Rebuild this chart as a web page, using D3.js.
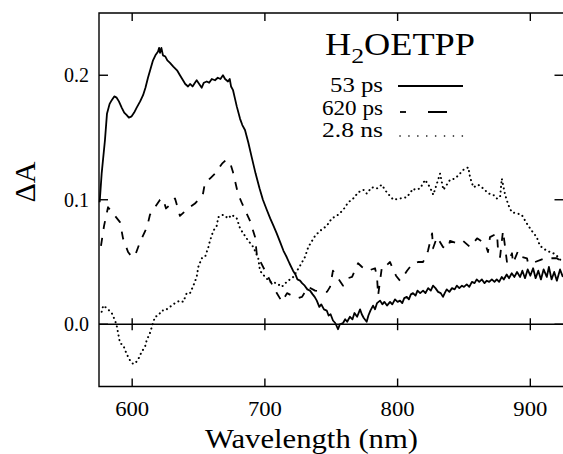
<!DOCTYPE html>
<html><head><meta charset="utf-8">
<script src="https://cdn.jsdelivr.net/npm/d3@7/dist/d3.min.js"></script>
<style>body{margin:0;background:#fff}svg{display:block}</style>
</head><body><svg id="c" width="563" height="454" font-family="'Liberation Serif', 'DejaVu Serif', serif"></svg>
<script>
const xTicks=[600,700,800,900];
const yTicks=[0.0,0.1,0.2];
const xLabel="Wavelength (nm)";
const yLabel="ΔA";
const seriesNames=["53 ps","620 ps","2.8 ns"];
const s53=[[575.5,0.098],[577,0.121],[579.5,0.148],[581,0.169],[583,0.177],[584.6,0.180],[586.5,0.183],[588.3,0.182],[590,0.179],[592.1,0.174],[594,0.170],[595.9,0.168],[597.5,0.166],[599.6,0.167],[601.5,0.170],[603.4,0.174],[606,0.179],[608.2,0.184],[610,0.190],[611.9,0.198],[613.8,0.205],[615.7,0.212],[617.5,0.216],[619.5,0.219],[620.3,0.222],[621,0.218],[622,0.222],[623.2,0.216],[625,0.215],[626.5,0.212],[628.5,0.210],[631,0.207],[633.8,0.204],[636,0.200],[638.3,0.196],[640,0.193],[642.1,0.191],[643.6,0.193],[645.5,0.191],[647.3,0.194],[648.6,0.196],[650.5,0.193],[652.4,0.190],[654,0.194],[656.2,0.195],[658,0.194],[660,0.197],[662.4,0.196],[664.5,0.198],[666.5,0.197],[668.4,0.200],[670,0.197],[672.2,0.195],[673.5,0.197],[674.5,0.191],[676,0.188],[677.5,0.181],[678.8,0.175],[681.3,0.165],[683,0.160],[685,0.156],[687.5,0.146],[690.1,0.134],[693,0.121],[696,0.109],[698.5,0.100],[701.4,0.092],[704,0.085],[706.5,0.079],[708.9,0.073],[711.5,0.066],[714,0.059],[716.4,0.054],[718.5,0.049],[721.2,0.043],[723,0.040],[724.5,0.036],[726.5,0.035],[728,0.033],[730,0.031],[732,0.028],[734,0.027],[736,0.024],[737.5,0.022],[739.1,0.019],[741,0.014],[742.5,0.016],[744.5,0.012],[746.6,0.011],[748,0.007],[749.5,0.008],[751.3,0.003],[753,0.001],[755.1,-0.004],[756.5,0.000],[758.9,0.001],[760.5,0.004],[762,0.002],[764.1,0.006],[766,0.004],[767.5,0.009],[769.5,0.006],[771.7,0.012],[773,0.008],[774.5,0.005],[776.7,0.002],[778,0.007],[779.5,0.011],[781.5,0.015],[783,0.012],[784.5,0.017],[786.8,0.019],[788.5,0.016],[790,0.018],[792,0.015],[794.3,0.018],[796,0.016],[798,0.020],[800,0.018],[801.8,0.019],[803.5,0.017],[805,0.021],[806.9,0.022],[808.5,0.020],[810,0.024],[811.6,0.025],[813.5,0.023],[815,0.027],[817,0.025],[819.2,0.027],[821,0.025],[823,0.029],[825,0.027],[826.7,0.031],[828.5,0.029],[830.5,0.026],[832.5,0.025],[834.2,0.022],[835.5,0.025],[837,0.028],[839,0.026],[841,0.029],[843,0.028],[844.6,0.031],[846.5,0.029],[848.5,0.031],[850,0.030],[852.1,0.032],[854,0.030],[856,0.034],[858,0.033],[859.6,0.036],[861.5,0.034],[863.5,0.036],[865.5,0.033],[867.2,0.035],[869,0.034],[871,0.036],[873,0.034],[874.7,0.036],[876.5,0.034],[878.5,0.038],[880,0.036],[882.2,0.040],[884,0.037],[886,0.041],[888,0.038],[890,0.042],[892.3,0.038],[894,0.043],[896,0.037],[898,0.044],[900,0.039],[902.1,0.045],[904,0.037],[906,0.043],[908,0.036],[910,0.044],[912.4,0.038],[914,0.046],[916,0.036],[918,0.042],[920,0.035],[922.4,0.044],[924.5,0.038]];
const s620=[[576.5,0.063],[578.8,0.079],[581.8,0.094],[585.6,0.089],[590.8,0.082],[593.1,0.069],[596.9,0.058],[599.9,0.054],[602.1,0.055],[605.9,0.066],[611.2,0.078],[613.4,0.088],[617.2,0.094],[621.0,0.100],[623.2,0.101],[625.5,0.093],[628.5,0.096],[630.8,0.100],[632.3,0.101],[636.0,0.087],[639.1,0.090],[642.1,0.093],[647.3,0.097],[651.1,0.101],[653.4,0.105],[654.9,0.114],[658.6,0.117],[662.4,0.121],[667.7,0.129],[670.7,0.132],[673.7,0.130],[676.0,0.122],[679.7,0.105],[682.8,0.097],[685.8,0.090],[688.8,0.083],[692.6,0.070],[694.1,0.054],[696.3,0.051],[700.1,0.043],[703.9,0.035],[708.4,0.026],[712.9,0.018],[716.7,0.025],[720.4,0.023],[725.0,0.021],[728.0,0.022],[732.5,0.030],[737.8,0.027],[743.1,0.026],[746.8,0.026],[749.1,0.030],[751.3,0.043],[754.4,0.038],[758.9,0.031],[762.6,0.037],[765.7,0.038],[770.2,0.049],[773.2,0.046],[777.7,0.043],[783.0,0.045],[784.5,0.038],[785.3,0.023],[788.3,0.047],[791.3,0.047],[794.3,0.050],[795.8,0.046],[798.8,0.039],[801.8,0.035],[804.1,0.038],[807.1,0.043],[811.6,0.049],[815.4,0.050],[819.2,0.050],[822.9,0.059],[826.0,0.073],[826.7,0.061],[829.7,0.070],[834.2,0.062],[838.0,0.061],[839.5,0.067],[844.8,0.065],[849.3,0.067],[854.6,0.062],[859.9,0.069],[865.9,0.065],[868.1,0.058],[869.6,0.070],[874.9,0.073],[875.7,0.059],[877.2,0.054],[879.4,0.075],[881.0,0.062],[882.5,0.049],[886.2,0.057],[887.0,0.049],[890.8,0.059],[893.8,0.054],[897.5,0.053],[898.3,0.049],[903.6,0.050],[911.1,0.053],[920.1,0.053],[923.9,0.050]];
const s28=[[577.0,0.010],[578.2,0.015],[580.8,0.013],[584.6,0.009],[587.1,0.003],[588.3,-0.001],[590.8,-0.015],[593.3,-0.017],[595.9,-0.024],[598.4,-0.029],[600.8,-0.032],[603.4,-0.030],[604.6,-0.028],[607.2,-0.022],[609.7,-0.018],[610.9,-0.013],[613.4,-0.007],[617.2,0.006],[619.7,0.007],[622.3,0.011],[624.7,0.011],[628.5,0.014],[632.3,0.017],[636.0,0.019],[638.5,0.018],[641.1,0.025],[643.6,0.025],[646.1,0.031],[648.6,0.038],[649.8,0.046],[652.4,0.053],[654.9,0.054],[657.4,0.062],[658.6,0.067],[661.1,0.075],[663.7,0.079],[664.9,0.086],[668.7,0.088],[672.4,0.085],[675.0,0.088],[678.8,0.085],[681.3,0.077],[683.7,0.073],[687.5,0.067],[691.3,0.062],[695.0,0.053],[696.3,0.043],[700.1,0.038],[703.9,0.034],[708.9,0.033],[712.7,0.030],[716.4,0.034],[721.4,0.038],[726.5,0.047],[730.2,0.054],[732.7,0.062],[737.8,0.071],[741.5,0.075],[746.6,0.079],[750.4,0.085],[755.3,0.088],[759.1,0.092],[762.9,0.098],[766.6,0.101],[770.4,0.106],[774.2,0.108],[776.7,0.105],[780.5,0.110],[784.3,0.109],[788.0,0.112],[791.8,0.106],[796.8,0.100],[801.8,0.101],[806.9,0.102],[811.9,0.109],[813.1,0.108],[816.9,0.109],[820.7,0.116],[824.4,0.110],[826.9,0.104],[832.0,0.121],[834.5,0.108],[839.5,0.116],[843.3,0.117],[847.0,0.121],[849.5,0.124],[853.3,0.126],[854.6,0.118],[857.1,0.110],[860.8,0.112],[864.6,0.109],[868.4,0.105],[872.1,0.104],[874.7,0.101],[877.2,0.102],[878.5,0.117],[881.0,0.104],[883.4,0.096],[886.0,0.090],[889.8,0.089],[893.5,0.088],[897.3,0.081],[901.1,0.075],[904.8,0.070],[907.3,0.063],[912.4,0.059],[917.4,0.057],[921.1,0.054],[923.7,0.050]];

const svg=d3.select("#c");
const FONT="'Liberation Serif', 'DejaVu Serif', serif";
const L=99,R=563.5,T=13,B=386.5;
const x=d3.scaleLinear().domain([575,925]).range([L,R]);
const y=d3.scaleLinear().domain([-0.05,0.25]).range([B,T]);
const fr=svg.append("g").attr("stroke","#000").attr("stroke-width",1.4).attr("fill","none");
fr.append("path").attr("d",`M${R},${T}H${L}V${B}H${R}`);
fr.append("line").attr("x1",L).attr("x2",R).attr("y1",y(0)).attr("y2",y(0));
xTicks.forEach(t=>{
  fr.append("line").attr("x1",x(t)).attr("x2",x(t)).attr("y1",B).attr("y2",B-8);
  fr.append("line").attr("x1",x(t)).attr("x2",x(t)).attr("y1",T).attr("y2",T+8);
  fr.append("line").attr("x1",x(t)).attr("x2",x(t)).attr("y1",y(0)-6).attr("y2",y(0)+6);
});
yTicks.forEach(t=>{
  fr.append("line").attr("x1",L).attr("x2",L+9).attr("y1",y(t)).attr("y2",y(t));
  fr.append("line").attr("x1",R).attr("x2",R-9).attr("y1",y(t)).attr("y2",y(t));
});
const tg=svg.append("g").attr("font-family",FONT).attr("fill","#000");
tg.selectAll("text.xt").data(xTicks).join("text").attr("class","xt")
  .attr("x",d=>x(d)).attr("y",416).attr("text-anchor","middle").attr("font-size",21)
  .attr("textLength",34).attr("lengthAdjust","spacingAndGlyphs").text(d=>d);
tg.selectAll("text.yt").data(yTicks).join("text").attr("class","yt")
  .attr("x",89).attr("y",d=>y(d)+7).attr("text-anchor","end").attr("font-size",20)
  .attr("textLength",25).attr("lengthAdjust","spacingAndGlyphs").text(d=>d.toFixed(1));
tg.append("text").attr("x",311.5).attr("y",448).attr("text-anchor","middle").attr("font-size",27)
  .attr("textLength",213).attr("lengthAdjust","spacingAndGlyphs").text(xLabel);
tg.append("text").attr("transform","translate(35,182) rotate(-90)").attr("text-anchor","middle").attr("font-size",30).text(yLabel);

const line=d3.line().x(d=>x(d[0])).y(d=>y(d[1]));
const styles=[{w:1.8,dash:null,cap:"butt"},{w:1.8,dash:"8,9",cap:"butt"},{w:2,dash:"0.1,4.5",cap:"round"}];
[s53,s620,s28].forEach((s,i)=>{
  svg.append("path").datum(s).attr("d",line).attr("fill","none").attr("stroke","#000")
    .attr("stroke-width",styles[i].w).attr("stroke-linejoin","round").attr("stroke-linecap",styles[i].cap)
    .attr("stroke-dasharray",styles[i].dash);
});
// legend
const title=tg.append("text").attr("x",325).attr("y",55).attr("font-size",31).attr("textLength",150).attr("lengthAdjust","spacingAndGlyphs");
title.append("tspan").text("H");
title.append("tspan").attr("font-size",22).attr("dy",8).text("2");
title.append("tspan").attr("dy",-8).text("OETPP");
const ly=[92,115,137], lw=[53,61,61];
seriesNames.forEach((n,i)=>{
  tg.append("text").attr("x",383).attr("y",ly[i]).attr("text-anchor","end").attr("font-size",21)
   .attr("textLength",lw[i]).attr("lengthAdjust","spacingAndGlyphs").text(n);
});
svg.append("line").attr("x1",398).attr("x2",463).attr("y1",86).attr("y2",86).attr("stroke","#000").attr("stroke-width",1.8);
svg.append("line").attr("x1",400).attr("x2",406).attr("y1",112).attr("y2",112).attr("stroke","#000").attr("stroke-width",1.8);
svg.append("line").attr("x1",428).attr("x2",447).attr("y1",112).attr("y2",112).attr("stroke","#000").attr("stroke-width",2);
svg.append("line").attr("x1",400).attr("x2",463).attr("y1",136).attr("y2",136).attr("stroke","#000").attr("stroke-width",1.6).attr("stroke-dasharray","0.1,8.8").attr("stroke-linecap","round");
</script></body></html>
